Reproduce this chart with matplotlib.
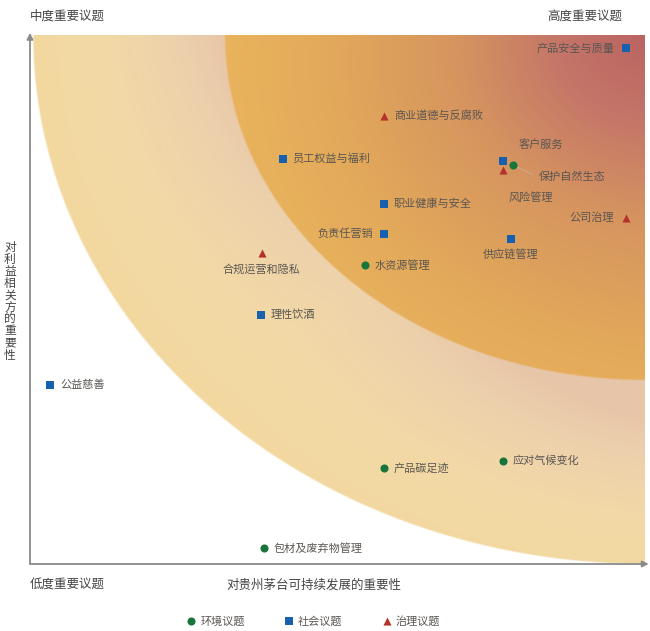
import numpy as np
import matplotlib
matplotlib.use("Agg")
import matplotlib.pyplot as plt
from matplotlib.colors import to_rgb

plt.rcParams['font.family'] = ['Noto Sans CJK SC', 'DejaVu Sans']

# ---------------- data ----------------
topics = ["产品安全与质量", "商业道德与反腐败", "员工权益与福利", "客户服务", "保护自然生态",
          "风险管理", "职业健康与安全", "公司治理", "负责任营销", "供应链管理",
          "合规运营和隐私", "水资源管理", "理性饮酒", "公益慈善", "产品碳足迹",
          "应对气候变化", "包材及废弃物管理"]
# importance to Moutai's sustainable development (x) / to stakeholders (y), 0-10
x_vals = [9.69, 5.76, 4.11, 7.69, 7.85, 7.69, 5.76, 9.69, 5.76, 7.82,
          3.77, 5.45, 3.76, 0.33, 5.76, 7.69, 3.80]
y_vals = [9.75, 8.47, 7.66, 7.62, 7.54, 7.45, 6.81, 6.54, 6.24, 6.14,
          5.88, 5.65, 4.71, 3.38, 1.81, 1.95, 0.30]
category = ["社会", "治理", "社会", "社会", "环境", "治理", "社会", "治理", "社会", "社会",
            "治理", "环境", "社会", "社会", "环境", "环境", "环境"]

cat_names = ["环境", "社会", "治理"]
legend_labels = ["环境议题", "社会议题", "治理议题"]
corner_labels = ["中度重要议题", "高度重要议题", "低度重要议题"]
x_title = "对贵州茅台可持续发展的重要性"
y_title = "对利益相关方的重要性"

# ---------------- styles ----------------
cat_style = {
    "环境": dict(marker="o", color="#17743a", s=34),
    "社会": dict(marker="s", color="#1660ad", s=34),
    "治理": dict(marker="^", color="#b3322a", s=34),
}
# label placement per topic: (dx_pt, dy_pt, ha, va)
R = (7, 0, "left", "center")
L = (-8, 0, "right", "center")
B = (0, -11, "center", "center")
label_place = {
    "产品安全与质量": L, "商业道德与反腐败": R, "员工权益与福利": R,
    "客户服务": (27, 11.5, "center", "center"),
    "保护自然生态": (43, -8.5, "center", "center"),
    "风险管理": (20, -20, "center", "center"),
    "职业健康与安全": R, "公司治理": (-8.5, 0, "right", "center"), "负责任营销": L,
    "供应链管理": B, "合规运营和隐私": (0, -12, "center", "center"), "水资源管理": R,
    "理性饮酒": R, "公益慈善": R, "产品碳足迹": R, "应对气候变化": R, "包材及废弃物管理": R,
}

W_PX, H_PX = 650, 631
fig = plt.figure(figsize=(W_PX / 100, H_PX / 100), dpi=100)
ax = fig.add_axes([30 / W_PX, (H_PX - 564) / H_PX, 615 / W_PX, 529 / H_PX])
ax.set_xlim(0, 10)
ax.set_ylim(0, 10)
ax.axis("off")

# ---------------- background zones ----------------
nx, ny = 1230, 1058
gx = np.linspace(0, 10, nx)
gy = np.linspace(0, 10, ny)
X, Y = np.meshgrid(gx, gy)
DX, DY = 10 - X, 10 - Y
r_out = np.sqrt((DX / 9.95) ** 2 + (DY / 10.0) ** 2)
r_in = np.sqrt((DX / 6.83) ** 2 + (DY / 6.52) ** 2)
phi = 1 - np.arctan2(DX, DY) / (np.pi / 2)   # 0 along top edge, 1 along right edge
edge = np.abs(2 * phi - 1)                     # 1 near the axes edges, 0 on the diagonal


def ramp(t, stops):
    t = np.clip(t, 0, 1)
    pos = np.array([p for p, _ in stops])
    cols = np.array([to_rgb(c) for _, c in stops])
    out = np.zeros(t.shape + (3,))
    for k in range(3):
        out[..., k] = np.interp(t, pos, cols[:, k])
    return out


# outer band: pale yellow near the outer arc, pinkish beige toward the inner arc
t_rad = np.clip((1 - r_out) / (1 - 0.66), 0, 1)
t_out = np.clip(t_rad ** 1.1 * (0.62 + 0.45 * edge) + 0.12 * phi ** 2, 0, 1)
outer_rgb = ramp(t_out, [(0.0, "#f3d89f"), (0.35, "#f2d9a6"), (0.7, "#edd1ac"), (1.0, "#e7c5a8")])

# inner zone: orange near arc -> rose at top-right corner
t_in = r_in * (1 - 0.18 * phi)
inner_rgb = ramp(t_in, [(0.0, "#ba6462"), (0.2, "#c47568"), (0.45, "#d6955f"),
                        (0.75, "#e3a95a"), (1.0, "#e9b45d")])

px_unit = 1 / 615
m_in = np.clip((1 - r_in) / (1.5 * px_unit * 10 / 6.7) + 0.5, 0, 1)[..., None]
a_out = np.clip((1 - r_out) / (1.5 * px_unit) + 0.5, 0, 1)
rgb = outer_rgb * (1 - m_in) + inner_rgb * m_in
rgba = np.dstack([rgb, a_out])
ax.imshow(rgba, extent=(0, 10, 0, 10), origin="lower", interpolation="bilinear",
          aspect="auto", zorder=0)

# ---------------- axes arrows ----------------
arrow_kw = dict(arrowstyle="-|>", color="#8a8a8a", lw=1.3, mutation_scale=9,
                shrinkA=0, shrinkB=0)
ax.annotate("", xy=(0, 1.004), xytext=(0, 0), xycoords="axes fraction",
            arrowprops=arrow_kw, annotation_clip=False)
ax.annotate("", xy=(1.006, 0), xytext=(0, 0), xycoords="axes fraction",
            arrowprops=arrow_kw, annotation_clip=False)

# ---------------- points ----------------
handles = []
for cat, lab in zip(cat_names, legend_labels):
    idx = [i for i, c in enumerate(category) if c == cat]
    h = ax.scatter([x_vals[i] for i in idx], [y_vals[i] for i in idx],
                   marker=cat_style[cat]["marker"], s=cat_style[cat]["s"],
                   color=cat_style[cat]["color"], linewidths=0, zorder=4,
                   label=lab, clip_on=False)
    handles.append(h)

for name, xv, yv in zip(topics, x_vals, y_vals):
    dx, dy, ha, va = label_place[name]
    if name == "保护自然生态":
        ax.annotate("", xy=(xv, yv), xytext=(15, -7), textcoords="offset points",
                    arrowprops=dict(arrowstyle="-", color="#cfa889", lw=0.8,
                                    shrinkA=0, shrinkB=3), zorder=3)
    ax.annotate(name, xy=(xv, yv), xytext=(dx, dy), textcoords="offset points",
                ha=ha, va=va, fontsize=8, color="#5a5652", zorder=5)

# ---------------- titles / corner labels ----------------
fig.text(30 / W_PX, 1 - 16 / H_PX, corner_labels[0], ha="left", va="center",
         fontsize=9, color="#444444")
fig.text(622 / W_PX, 1 - 16 / H_PX, corner_labels[1], ha="right", va="center",
         fontsize=9, color="#444444")
fig.text(30 / W_PX, 1 - 585 / H_PX, corner_labels[2], ha="left", va="center",
         fontsize=9, color="#444444")
fig.text(314 / W_PX, 1 - 585 / H_PX, x_title, ha="center", va="center",
         fontsize=9, color="#444444")
fig.text(10 / W_PX, 1 - 301 / H_PX, "\n".join(y_title), ha="center", va="center",
         fontsize=8.5, color="#444444", linespacing=0.9)

fig.legend(handles=handles, labels=legend_labels, loc="center",
           bbox_to_anchor=(313 / W_PX, 1 - 621 / H_PX), ncol=3, frameon=False,
           fontsize=8, handletextpad=0.3, columnspacing=3.5, handlelength=1.0,
           labelcolor="#5a5652", borderpad=0)

fig.savefig("out.png", dpi=100)
